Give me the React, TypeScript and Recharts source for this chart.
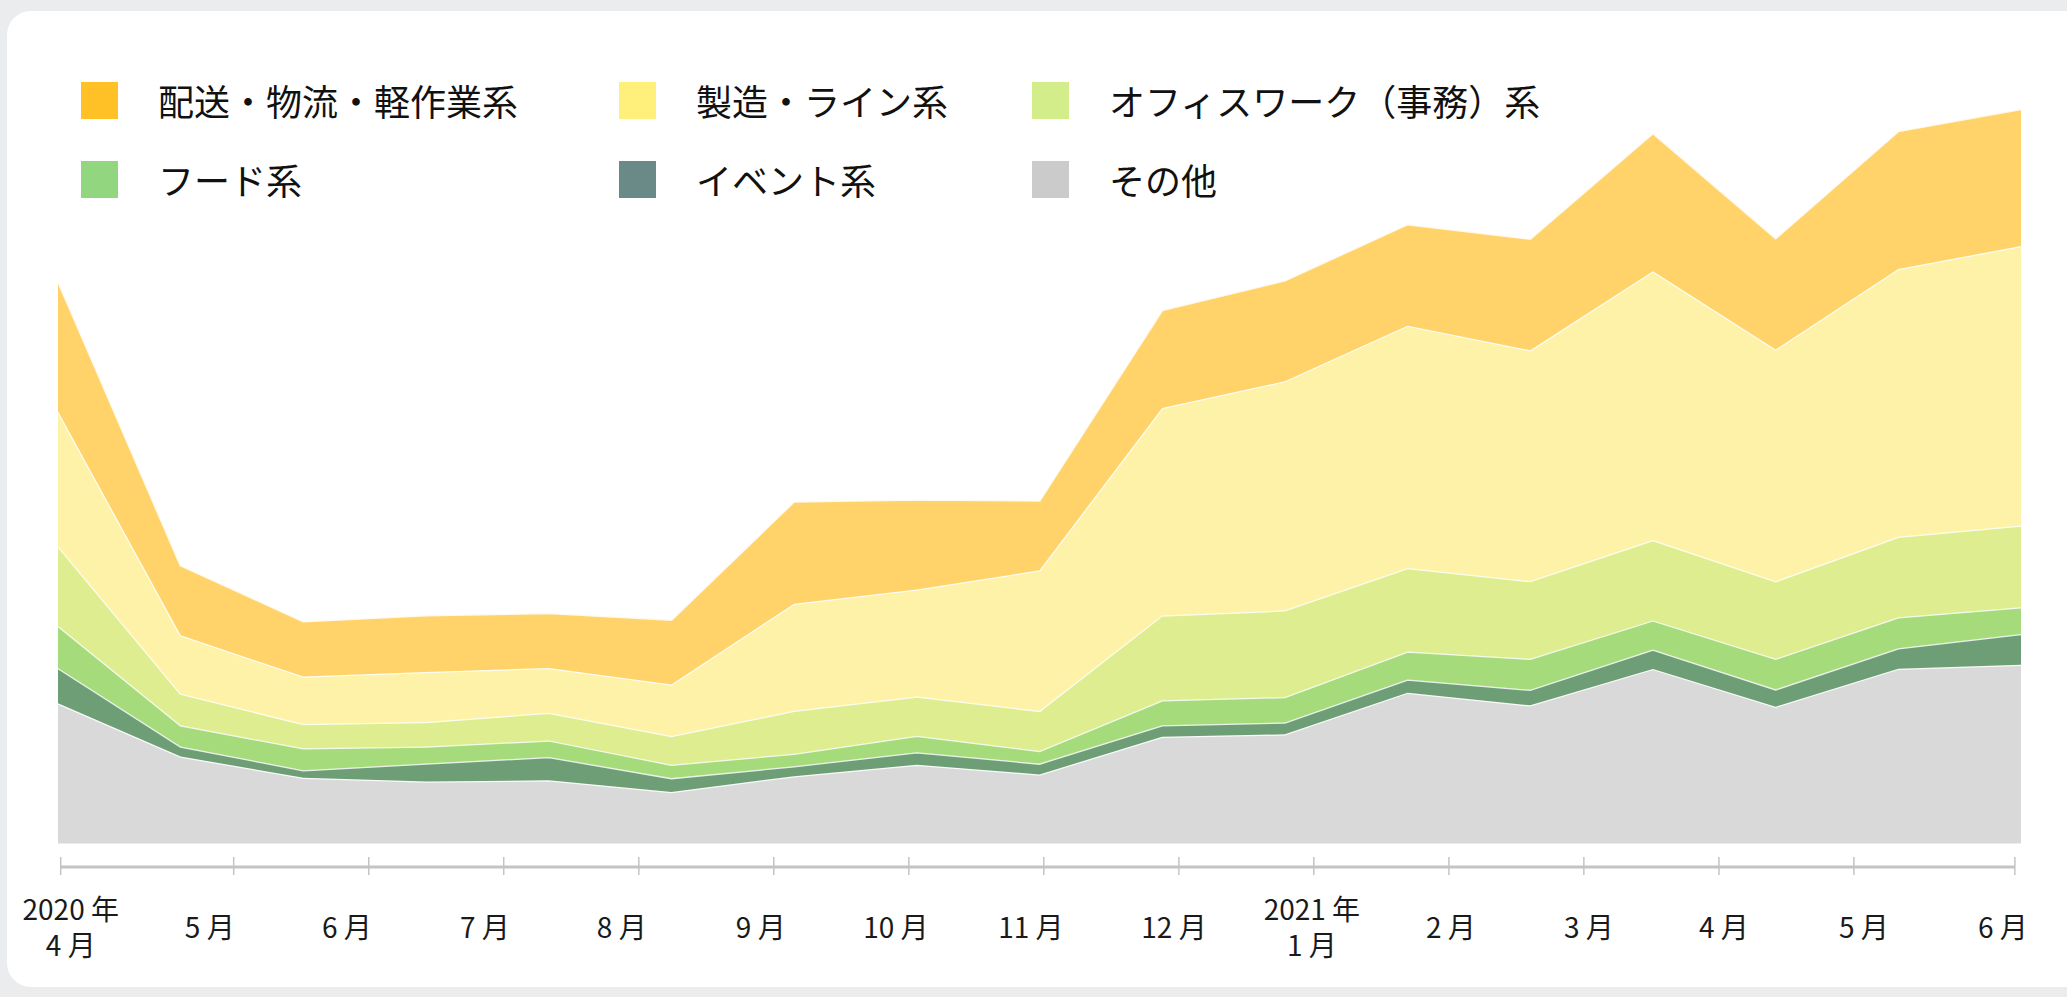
import { AreaChart, Area, XAxis, YAxis, ReferenceLine } from 'recharts';

// 4-weekly data points, Mar 2020 – Jun 2021 (index on the x axis)
const steps = [0, 1, 2, 3, 4, 5, 6, 7, 8, 9, 10, 11, 12, 13, 14, 15, 16];

const other = [1063, 660, 499, 471, 479, 390, 511, 597, 524, 809, 828, 1144, 1048, 1324, 1038, 1326, 1356];
const event = [268, 76, 57, 135, 177, 106, 75, 96, 82, 87, 90, 99, 118, 147, 131, 155, 233];
const food = [320, 160, 166, 130, 126, 102, 95, 125, 96, 190, 193, 213, 235, 221, 232, 235, 202];
const office = [605, 240, 184, 185, 210, 218, 325, 296, 304, 644, 657, 633, 589, 610, 588, 610, 620];
const factory = [1022, 443, 360, 380, 339, 390, 813, 813, 1066, 1573, 1738, 1838, 1750, 2037, 1757, 2030, 2120];
const delivery = [988, 531, 420, 430, 417, 492, 775, 682, 529, 743, 765, 769, 846, 1048, 844, 1046, 1038];

// month tick marks (in data-step units)
const monthTicks = [0.022, 1.432, 2.533, 3.633, 4.734, 5.834, 6.935, 8.035, 9.136, 10.236, 11.337, 12.437, 13.538, 14.638, 15.95];
// month label centres and texts
const labelTicks = [0.104, 1.237, 2.354, 3.479, 4.595, 5.728, 6.829, 7.93, 9.096, 10.22, 11.353, 12.478, 13.579, 14.72, 15.853];
const monthLabels = [
  ['2020 年', '4 月'], ['5 月'], ['6 月'], ['7 月'], ['8 月'], ['9 月'], ['10 月'], ['11 月'], ['12 月'],
  ['2021 年', '1 月'], ['2 月'], ['3 月'], ['4 月'], ['5 月'], ['6 月'],
];

const series = [
  { key: 'other', name: 'その他', fill: '#D9D9D9', swatch: '#CBCBCB', values: other },
  { key: 'event', name: 'イベント系', fill: '#6E9E76', swatch: '#698A87', values: event },
  { key: 'food', name: 'フード系', fill: '#A6DB7C', swatch: '#93D680', values: food },
  { key: 'office', name: 'オフィスワーク（事務）系', fill: '#DEED8F', swatch: '#D2ED8A', values: office },
  { key: 'factory', name: '製造・ライン系', fill: '#FEF2A8', swatch: '#FFEF7B', values: factory },
  { key: 'delivery', name: '配送・物流・軽作業系', fill: '#FFD36A', swatch: '#FFC125', values: delivery },
];

const legendOrder = ['delivery', 'factory', 'office', 'food', 'event', 'other'];
const legendCols = [81, 619, 1032];
const legendRows = [82, 161];

const data = steps.map((s, i) => {
  const row: Record<string, number> = { s };
  series.forEach((ser) => {
    row[ser.key] = ser.values[i];
  });
  return row;
});

const FONT = '"Noto Sans CJK JP", "Noto Sans", sans-serif';

function TickMark(props: any) {
  const { x, y } = props;
  return <line x1={x} x2={x} y1={y - 10} y2={y + 8} stroke="#c4c4c4" strokeWidth={1.5} />;
}

function MonthLabel(props: any) {
  const { x, y, index } = props;
  const lines = monthLabels[index] || [];
  const cy = y + 29;
  const gap = 36;
  const start = cy - ((lines.length - 1) * gap) / 2;
  return (
    <text textAnchor="middle" fontSize={28} fill="#1a1a1a" fontFamily={FONT}>
      {lines.map((t, i) => (
        <tspan key={i} x={x} y={start + i * gap} dominantBaseline="central">
          {t}
        </tspan>
      ))}
    </text>
  );
}

export default function App() {
  return (
    <div
      style={{
        position: 'relative',
        width: 2067,
        height: 997,
        background: '#EBECEE',
        overflow: 'hidden',
        fontFamily: FONT,
      }}
    >
      <style>{'body{margin:0}'}</style>
      <div
        style={{
          position: 'absolute',
          left: 7,
          top: 11,
          width: 2100,
          height: 976,
          background: '#fff',
          borderRadius: 24,
        }}
      />
      {legendOrder.map((k, i) => {
        const ser = series.find((s) => s.key === k)!;
        const left = legendCols[i % 3];
        const top = legendRows[Math.floor(i / 3)];
        return (
          <div key={k} style={{ position: 'absolute', left, top, display: 'flex', alignItems: 'center' }}>
            <div style={{ width: 37, height: 37, background: ser.swatch }} />
            <span style={{ marginLeft: 40, fontSize: 36, color: '#111', lineHeight: '37px', whiteSpace: 'nowrap' }}>
              {ser.name}
            </span>
          </div>
        );
      })}
      <div style={{ position: 'absolute', left: 0, top: 0 }}>
        <AreaChart width={2067} height={997} data={data} margin={{ top: 52, right: 46, left: 58, bottom: 0 }}>
          <XAxis
            type="number"
            dataKey="s"
            domain={[0, 16]}
            ticks={monthTicks}
            interval={0}
            axisLine={false}
            tickLine={false}
            tickSize={0}
            tickMargin={0}
            height={30}
            tick={<TickMark />}
          />
          <XAxis
            xAxisId="lbl"
            type="number"
            dataKey="s"
            domain={[0, 16]}
            ticks={labelTicks}
            interval={0}
            axisLine={false}
            tickLine={false}
            tickSize={0}
            tickMargin={0}
            height={100}
            tick={<MonthLabel />}
          />
          <YAxis hide type="number" domain={[-178, 6002]} allowDataOverflow />
          {series.map((ser) => (
            <Area
              key={ser.key}
              type="linear"
              dataKey={ser.key}
              name={ser.name}
              stackId="1"
              fill={ser.fill}
              fillOpacity={1}
              stroke="#fff"
              strokeWidth={2.5}
              strokeOpacity={0.85}
              isAnimationActive={false}
            />
          ))}
          <ReferenceLine
            segment={[
              { x: monthTicks[0], y: -178 },
              { x: monthTicks[monthTicks.length - 1], y: -178 },
            ]}
            stroke="#c4c4c4"
            strokeWidth={3}
            ifOverflow="visible"
          />
        </AreaChart>
      </div>
    </div>
  );
}
